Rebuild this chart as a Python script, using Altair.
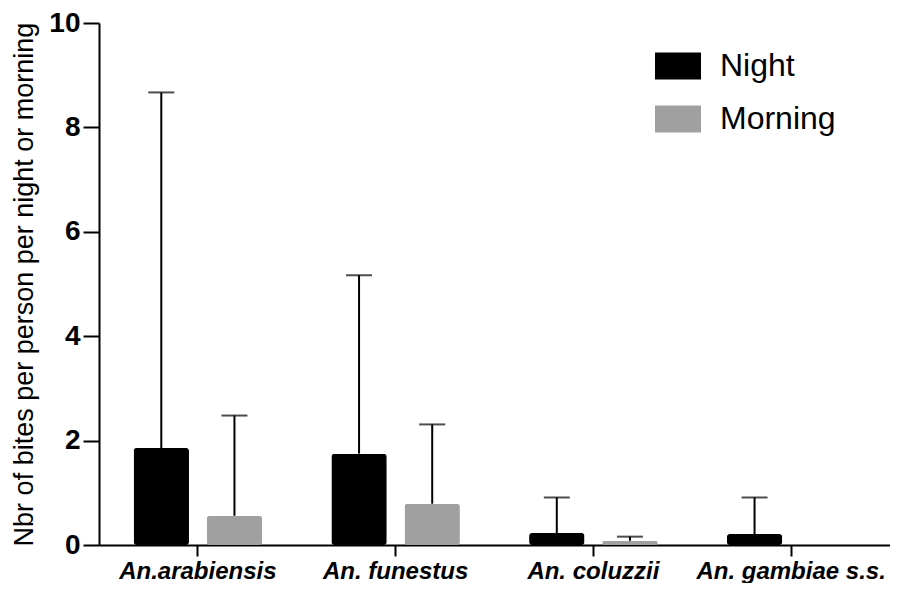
import altair as alt
import pandas as pd

species = ["An.arabiensis", "An. funestus", "An. coluzzii", "An. gambiae s.s."]
periods = ["Night", "Morning"]
night_mean = [1.86, 1.75, 0.23, 0.21]
night_upper = [8.67, 5.17, 0.91, 0.91]
morning_mean = [0.56, 0.79, 0.08, 0.0]
morning_upper = [2.48, 2.31, 0.16, None]
y_ticks = [0, 2, 4, 6, 8, 10]

rows = []
for i, s in enumerate(species):
    rows.append({"species": s, "period": "Night", "mean": night_mean[i], "upper": night_upper[i]})
    rows.append({"species": s, "period": "Morning", "mean": morning_mean[i], "upper": morning_upper[i]})
df = pd.DataFrame(rows)

FONT = "Liberation Sans"

base = alt.Chart(df).encode(
    x=alt.X(
        "species:N",
        sort=species,
        scale=alt.Scale(paddingInner=0, paddingOuter=0),
        axis=alt.Axis(
            title=None, labelAngle=0, labelFontSize=24, labelFontWeight="bold",
            labelFontStyle="italic", labelColor="black", labelFont=FONT,
            labelLimit=0,
            tickSize=11, tickWidth=2, tickColor="black",
            domainWidth=2, domainColor="black", labelPadding=3,
        ),
    ),
    xOffset=alt.XOffset(
        "period:N", sort=periods,
        scale=alt.Scale(paddingInner=0.243, paddingOuter=0.473),
    ),
)

yscale = alt.Scale(domain=[0, 10], nice=False)

bars = base.mark_bar(cornerRadius=3).encode(
    y=alt.Y(
        "mean:Q",
        scale=yscale,
        axis=alt.Axis(
            values=y_ticks, grid=False, labelFontSize=28, labelFontWeight="bold",
            labelColor="black", labelFont=FONT, labelFlush=False, labelOverlap=False,
            tickSize=16, tickWidth=2, tickColor="black",
            domainWidth=2, domainColor="black", labelPadding=3,
            title="Nbr of bites per person per night or morning",
            titleFontSize=27, titleFontWeight="normal", titleColor="black",
            titleFont=FONT, titlePadding=10,
        ),
    ),
    color=alt.Color(
        "period:N",
        sort=periods,
        scale=alt.Scale(domain=periods, range=["#000000", "#a0a0a0"]),
        legend=alt.Legend(
            title=None, orient="none", legendX=556, legendY=20,
            symbolType="M-1,-0.587H1V0.587H-1Z", symbolSize=2116,
            symbolStrokeWidth=0, labelFontSize=32, labelFont=FONT,
            labelColor="black", labelOffset=19, rowPadding=14,
        ),
    ),
)

err = base.transform_filter("isValid(datum.upper)")
rules = err.mark_rule(color="black", strokeWidth=2).encode(
    y=alt.Y("mean:Q", scale=yscale), y2="upper:Q"
)
caps = err.mark_tick(color="black", thickness=2, size=26).encode(
    y=alt.Y("upper:Q", scale=yscale)
)

chart = alt.layer(rules, bars, caps).properties(
    width=791, height=522,
    autosize=alt.AutoSizeParams(type="none"),
    padding={"left": 91, "top": 15, "right": 0, "bottom": 38},
).configure(font=FONT, view=alt.ViewConfig(stroke=None))

chart.save("out.html", embed_options={"renderer": "svg", "actions": False})
